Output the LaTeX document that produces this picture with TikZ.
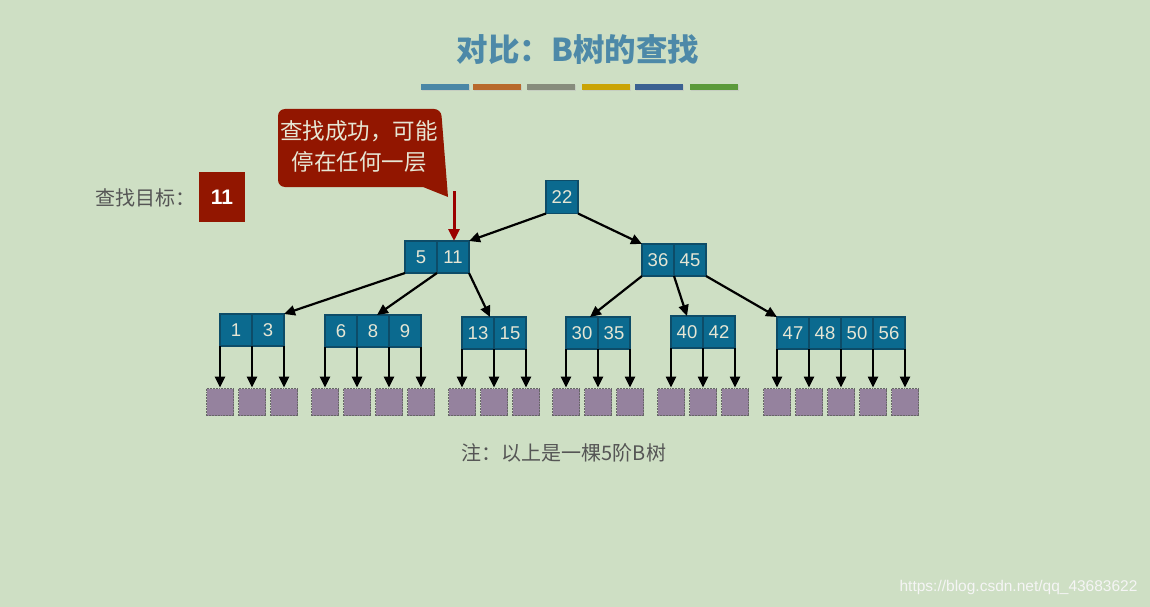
\documentclass[tikz,border=0pt]{standalone}
\usepackage{fontspec}
\setmainfont{Liberation Sans}
\newfontfamily\cjk{Noto Sans CJK SC}
\usetikzlibrary{positioning,arrows.meta}
\definecolor{pagebg}{HTML}{CEDFC4}
\definecolor{keyblue}{HTML}{0B6A8F}
\definecolor{keyedge}{HTML}{0D4C68}
\definecolor{keytext}{HTML}{E6E6D4}
\definecolor{leaffill}{HTML}{95829E}
\definecolor{leafedge}{HTML}{666666}
\definecolor{hitred}{HTML}{9B0000}
\definecolor{calloutred}{HTML}{921600}
\definecolor{titleblue}{HTML}{4D89A8}
\definecolor{textgray}{HTML}{555555}

\begin{document}
\begin{tikzpicture}[x=1pt,y=-1pt,
  key/.style={draw=keyedge,fill=keyblue,line width=1.6pt,text=keytext,
    minimum width=32,minimum height=32,inner sep=0pt,outer sep=0pt,
    font=\fontsize{18.5}{18.5}\selectfont},
  leaf/.style={draw=leafedge,fill=leaffill,densely dotted,line width=1.8pt,
    minimum size=27,inner sep=0pt},
  ptr/.style={line width=2.2pt,-{Triangle[length=11pt,width=10pt]}},
  hit/.style={hitred,line width=3pt,-{Triangle[length=12pt,width=11pt]}},
  note/.style={text=textgray,font=\cjk\fontsize{20}{20}\selectfont}
  ]
\useasboundingbox[fill=pagebg] (0,0) rectangle (1150,607);
% title
\node[text=titleblue,font=\cjk\bfseries\fontsize{31.5}{31.5}\selectfont] (title) at (578,50) {对比：B树的查找};
\foreach \x/\c in {421/4A87A6,473/B86A2C,527/878C7C,582/CAA405,635/3B6191,690/5B9A3A}{
  \definecolor{barcol}{HTML}{\c}
  \fill[black!25,opacity=0.5] (\x+1,85) rectangle ++(48,6);
  \fill[barcol] (\x,84) rectangle ++(48,6);
}
% goal
\node[note,anchor=east] (goal) at (199,198) {查找目标：};
\node[fill=calloutred,text=white,minimum width=46,minimum height=50,
  font=\bfseries\fontsize{21}{21}\selectfont] (goalkey) at (222,197) {11};
% callout
\fill[calloutred,rounded corners=7pt] (278,109) -- (441,109) [sharp corners]-- (448,197)
  -- (423,187) [rounded corners=7pt]-- (278,187) -- cycle;
\node[text=keytext,align=center,font=\cjk\fontsize{22.5}{31}\selectfont] (callout) at (359,147)
  {查找成功，可能\\停在任何一层};
% root
\node[key,minimum height=33] (k22) at (562,197) {22};
% level 1
\node[key] (k5) at (421,257) {5};
\node[key,right=0pt of k5] (k11) {11};
\node[key] (k36) at (658,260) {36};
\node[key,right=0pt of k36] (k45) {45};
% level 2
\node[key] (k1) at (236,330) {1};
\node[key,right=0pt of k1] (k3) {3};
\node[key] (k6) at (341,331) {6};
\node[key,right=0pt of k6] (k8) {8};
\node[key,right=0pt of k8] (k9) {9};
\node[key] (k13) at (478,333) {13};
\node[key,right=0pt of k13] (k15) {15};
\node[key] (k30) at (582,333) {30};
\node[key,right=0pt of k30] (k35) {35};
\node[key] (k40) at (687,332) {40};
\node[key,right=0pt of k40] (k42) {42};
\node[key] (k47) at (793,333) {47};
\node[key,right=0pt of k47] (k48) {48};
\node[key,right=0pt of k48] (k50) {50};
\node[key,right=0pt of k50] (k56) {56};
% tree links
\draw[ptr] (k22.south west) -- (k11.north east);
\draw[ptr] (k22.south east) -- (k36.north west);
\draw[ptr] (k5.south west) -- (k3.north east);
\draw[ptr] (k5.south east) -- ([xshift=4pt]k8.north);
\draw[ptr] (k11.south east) -- ([xshift=-4pt]k13.north east);
\draw[ptr] (k36.south west) -- ([xshift=-8pt]k30.north east);
\draw[ptr] (k36.south east) -- (k40.north);
\draw[ptr] (k45.south east) -- (k47.north west);
% leaves
\foreach \c/\n in {k1.south west/l1,k1.south east/l2,k3.south east/l3,
  k6.south west/l4,k6.south east/l5,k8.south east/l6,k9.south east/l7,
  k13.south west/l8,k13.south east/l9,k15.south east/l10,
  k30.south west/l11,k30.south east/l12,k35.south east/l13,
  k40.south west/l14,k40.south east/l15,k42.south east/l16,
  k47.south west/l17,k47.south east/l18,k48.south east/l19,k50.south east/l20,k56.south east/l21}{
  \node[leaf] (\n) at (\c |- 0,402) {};
  \draw[ptr] (\c) -- (\n);
}
% search hit
\coordinate (hitfrom) at (454,191);
\draw[hit] (hitfrom) -- (hitfrom |- k11.north);
% footnote
\node[note] (remark) at (564,453) {注：以上是一棵5阶B树};
\node[anchor=east,text=white!92!gray,font=\fontsize{15.5}{15.5}\selectfont] (mark) at (1141,587)
  {https://blog.csdn.net/qq\_43683622};
\end{tikzpicture}
\end{document}
